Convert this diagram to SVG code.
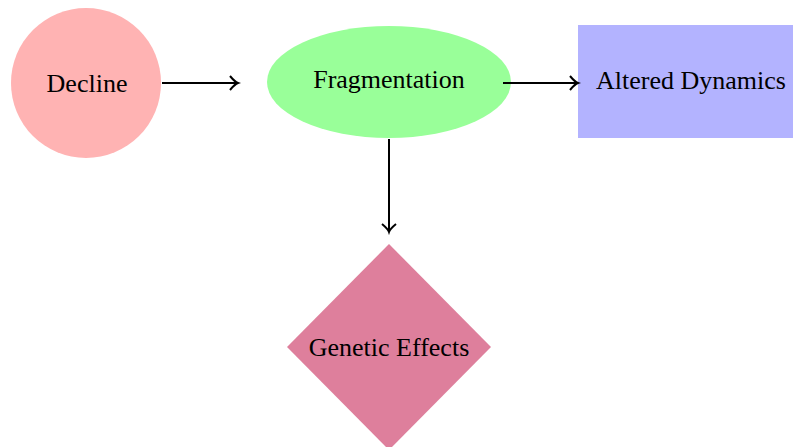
<svg xmlns="http://www.w3.org/2000/svg" width="793" height="447" viewBox="0 0 793 447">
<style>
text{font-family:"Liberation Serif","Times New Roman",serif;font-size:26px;fill:#000;text-anchor:middle;dominant-baseline:central}
.edge{stroke:#000;stroke-width:2;fill:none}
</style>
<defs>
<marker id="arr" markerWidth="12" markerHeight="18" refX="9" refY="9" orient="auto" markerUnits="userSpaceOnUse">
<path d="M1,2 Q6,8 9,9 Q6,10 1,16" fill="none" stroke="#000" stroke-width="2"/>
</marker>
</defs>
<g id="decline"><circle cx="86" cy="83" r="75" fill="#ffb3b3"/><text x="87" y="83">Decline</text></g>
<g id="fragmentation"><ellipse cx="389" cy="82" rx="122" ry="56" fill="#99ff99"/><text x="389" y="79">Fragmentation</text></g>
<g id="altered"><rect x="578" y="25" width="220" height="113" fill="#b3b3ff"/><text x="691" y="80">Altered Dynamics</text></g>
<g id="genetic"><polygon points="389,244 491,347 389,450 287,347" fill="#de7f9c"/><text x="389" y="347">Genetic Effects</text></g>
<g id="connectors">
<line class="edge" x1="162" y1="83" x2="238" y2="83" marker-end="url(#arr)"/>
<line class="edge" x1="503" y1="83" x2="578" y2="83" marker-end="url(#arr)"/>
<line class="edge" x1="389" y1="139" x2="389" y2="232" marker-end="url(#arr)"/>
</g>
</svg>
